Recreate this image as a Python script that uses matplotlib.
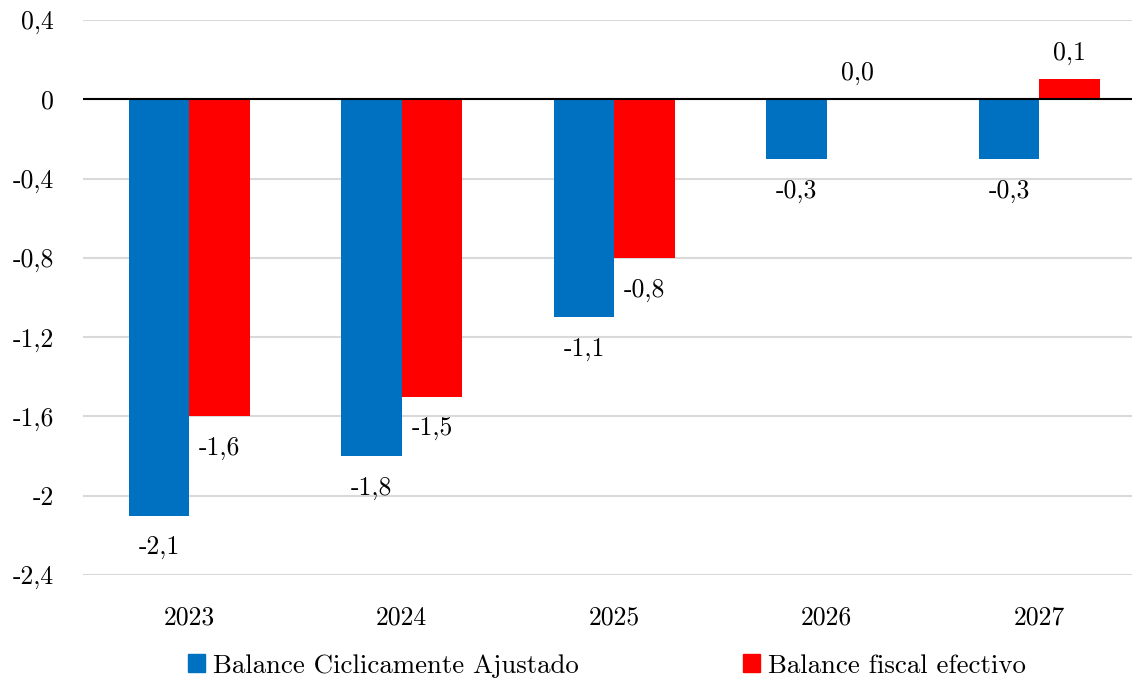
import matplotlib
matplotlib.use("Agg")
import matplotlib.pyplot as plt
from matplotlib.patches import Patch
import numpy as np

plt.rcParams["font.family"] = "serif"
plt.rcParams["font.serif"] = ["cmr10"]
plt.rcParams["axes.unicode_minus"] = False
plt.rcParams["mathtext.fontset"] = "cm"

# Balance fiscal (% del PIB)
years = ["2023", "2024", "2025", "2026", "2027"]
ciclicamente_ajustado = [-2.1, -1.8, -1.1, -0.3, -0.3]
fiscal_efectivo = [-1.6, -1.5, -0.8, 0.0, 0.1]
yticks = [0.4, 0, -0.4, -0.8, -1.2, -1.6, -2, -2.4]
ytick_labels = ["0,4", "0", "-0,4", "-0,8", "-1,2", "-1,6", "-2", "-2,4"]

azul = "#0070C0"
rojo = "#FF0000"
fs = 18.5

fig = plt.figure(figsize=(11.32, 6.78), dpi=100)
ax = fig.add_axes([83 / 1132, 1 - 575 / 678, 1062.5 / 1132, 555 / 678])

x = np.arange(len(years))
w = 0.285
b1 = ax.bar(x - w / 2, ciclicamente_ajustado, w, color=azul, zorder=2)
b2 = ax.bar(x + w / 2, fiscal_efectivo, w, color=rojo, zorder=2)


def etiquetar(bars, vals):
    for bar, v in zip(bars, vals):
        cx = bar.get_x() + bar.get_width() / 2
        txt = f"{v:.1f}".replace(".", ",")
        dy = -23 if v < 0 else 19
        ax.annotate(txt, (cx, v), xytext=(0, dy), textcoords="offset points",
                    ha="center", va="center", fontsize=fs)


etiquetar(b1, ciclicamente_ajustado)
etiquetar(b2, fiscal_efectivo)

ax.axhline(0, color="black", lw=1.5, zorder=3)
ax.set_ylim(-2.4, 0.4)
ax.set_xlim(-0.5, 4.5)
ax.set_yticks(yticks)
ax.set_yticklabels(ytick_labels)
ax.set_xticks(x)
ax.set_xticklabels(years)
ax.tick_params(axis="both", length=0, labelsize=fs)
ax.tick_params(axis="y", pad=21)
ax.tick_params(axis="x", pad=22)
ax.yaxis.grid(True, color="#D9D9D9", lw=1.5, zorder=0)
ax.set_axisbelow(True)
for s in ax.spines.values():
    s.set_visible(False)

handles = [Patch(color=azul, label="Balance Ciclicamente Ajustado"),
           Patch(color=rojo, label="Balance fiscal efectivo")]
fig.legend(handles=handles, loc="center", bbox_to_anchor=(607 / 1132, 1 - 666 / 678),
           ncol=2, frameon=False, fontsize=19.3, handlelength=0.65, handleheight=0.65,
           handletextpad=0.3, columnspacing=6.1, borderaxespad=0)

fig.savefig("out.png", dpi=100)
